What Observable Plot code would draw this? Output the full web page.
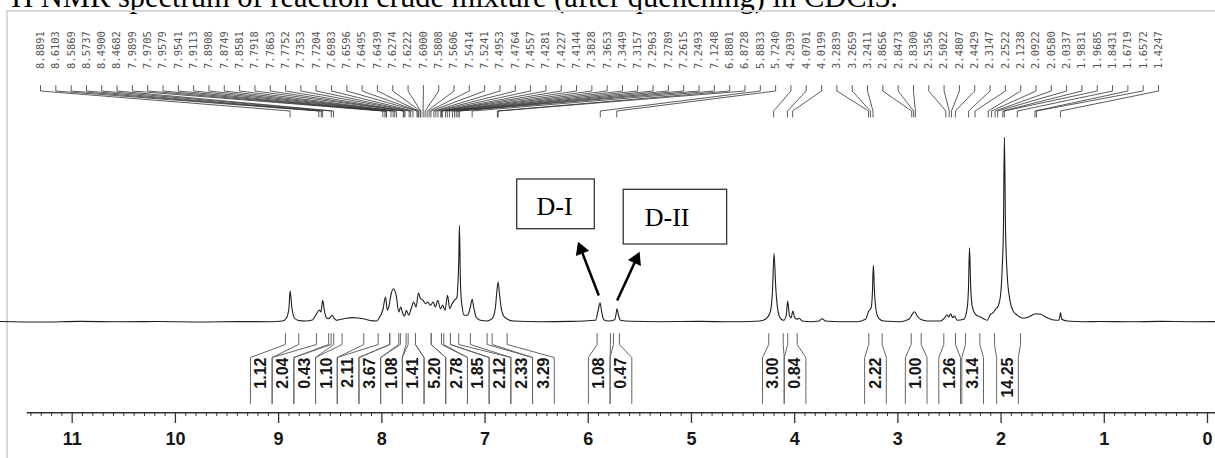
<!DOCTYPE html>
<html><head><meta charset="utf-8">
<script src="https://cdn.jsdelivr.net/npm/d3@7"></script>
<script src="https://cdn.jsdelivr.net/npm/@observablehq/plot@0.6"></script>
<style>
html,body{margin:0;padding:0;background:#fff;}
body{width:1215px;height:458px;overflow:hidden;position:relative;font-family:"Liberation Sans",Arial,sans-serif;}
#title{position:absolute;left:2px;top:-18.5px;font-family:"Liberation Serif","Times New Roman",serif;font-size:30.5px;line-height:30.5px;white-space:nowrap;color:#000;}
#frame{position:absolute;left:6px;top:10px;width:1240px;height:480px;border:2px solid #d9d9d9;box-sizing:border-box;}
#chart{position:absolute;left:0;top:0;}
</style></head><body>
<div id="title">¹H NMR spectrum of reaction crude mixture (after quenching) in CDCl3.</div>
<div id="frame"></div>
<div id="chart"></div>
<script>
// ---------------- DATA ----------------
// spectrum trace (chemical shift in ppm, intensity in arbitrary units)
const specPpm = [11.696,11.308,10.920,10.533,10.145,9.758,9.370,9.079,8.963,8.924,8.900,8.889,8.871,8.847,8.808,8.740,8.673,8.634,8.605,8.590,8.573,8.556,8.537,8.517,8.498,8.481,8.464,8.440,8.401,8.343,8.285,8.227,8.169,8.110,8.052,8.030,7.988,7.965,7.946,7.929,7.910,7.885,7.861,7.836,7.817,7.797,7.781,7.762,7.739,7.716,7.691,7.668,7.645,7.626,7.600,7.578,7.555,7.529,7.503,7.481,7.458,7.432,7.410,7.387,7.364,7.342,7.319,7.297,7.271,7.262,7.255,7.248,7.238,7.222,7.200,7.168,7.142,7.125,7.110,7.087,7.045,6.980,6.931,6.899,6.886,6.873,6.860,6.845,6.820,6.786,6.725,6.463,6.172,5.930,5.904,5.885,5.872,5.850,5.801,5.743,5.730,5.722,5.707,5.688,5.591,5.300,4.913,4.622,4.380,4.312,4.266,4.234,4.215,4.200,4.183,4.164,4.138,4.106,4.080,4.068,4.050,4.034,4.018,3.999,3.976,3.956,3.927,3.847,3.766,3.733,3.702,3.556,3.394,3.314,3.282,3.259,3.246,3.238,3.227,3.210,3.185,3.137,2.975,2.894,2.861,2.839,2.813,2.781,2.716,2.587,2.546,2.522,2.507,2.490,2.468,2.452,2.425,2.361,2.328,2.316,2.306,2.294,2.277,2.248,2.200,2.161,2.135,2.103,2.077,2.054,2.028,2.006,1.989,1.977,1.968,1.957,1.941,1.916,1.883,1.844,1.819,1.780,1.732,1.667,1.618,1.553,1.489,1.441,1.430,1.424,1.412,1.360,1.199,1.037,0.746,0.455,0.165,-0.078];
const specInt = [0.5,0,0.6,0.2,0.5,0,0.4,0.3,1,4,14,31,14,4,1.5,1,2,8,12,10,21.7,11,4,3.4,5,6.7,4,1.7,2.5,3.8,4.4,4,3,1.5,1,3.3,13,25,11.7,16.7,28,33.3,26.7,10,15,8.3,5.7,11.7,6.7,13.3,20,15,29,23.3,21.7,18.3,20,16.7,20,15,21.7,13.3,16.7,11.7,26.7,13.3,18.3,21.7,25,40,60,96.7,38,15,6.7,7,15,22.7,15,5,1.7,1,3.3,15,30,40,28,15,6,3,1,0.3,0.6,1.7,11.7,19.3,11.7,2.3,1,2.3,8.3,13.3,6.7,1.7,0.7,0.3,0.6,0.2,0.8,1.5,4.3,11,31,68.7,34,12.7,3.7,1.7,7.7,21,6,4.3,11,4.3,2.7,3.7,1,0.3,1,3.3,1,0.3,0.3,2.7,11,14.3,31,57,31,11,3.7,1,0.3,2.7,7.7,10.3,6,2.7,1,1,4.3,7,5,8.3,4.3,6,1.7,2.7,14.3,34,74.3,34,14.3,7.7,5,2.7,1.7,7.7,9.3,12.7,16,26,54.3,94,185,94,47.7,22.7,11,7,5,3.7,5,8.3,7.7,4.3,2,1.7,6,9.3,2.7,1,0.3,0.5,0.2,0.6,0.3,0.4];

// peak picking labels (ppm)
const peakLabels = ["8.8891","8.6103","8.5869","8.5737","8.4900","8.4682","7.9899","7.9705","7.9579","7.9541","7.9113","7.8908","7.8749","7.8581","7.7918","7.7863","7.7752","7.7353","7.7204","7.6983","7.6596","7.6495","7.6439","7.6274","7.6222","7.6000","7.5808","7.5606","7.5414","7.5241","7.4953","7.4764","7.4557","7.4281","7.4227","7.4144","7.3828","7.3653","7.3449","7.3157","7.2963","7.2789","7.2615","7.2493","7.1248","6.8801","6.8728","5.8833","5.7240","4.2039","4.0701","4.0199","3.2839","3.2659","3.2411","2.8656","2.8473","2.8300","2.5356","2.5022","2.4807","2.4429","2.3147","2.2522","2.1238","2.0922","2.0580","2.0337","1.9831","1.9685","1.8431","1.6719","1.6572","1.4247"];

// integration regions (ppm from, ppm to) and values
const integralFrom = [8.934,8.634,8.491,8.385,8.036,7.923,7.820,7.745,7.674,7.522,7.400,7.335,7.142,6.931,5.914,5.756,4.251,4.067,3.282,2.871,2.555,2.345,2.064];
const integralTo   = [8.805,8.515,8.466,8.175,7.923,7.836,7.765,7.674,7.522,7.422,7.335,7.255,6.980,6.786,5.785,5.698,4.111,3.976,3.152,2.774,2.442,2.206,1.812];
const integralValues = ["1.12","2.04","0.43","1.10","2.11","3.67","1.08","1.41","5.20","2.78","1.85","2.12","2.33","3.29","1.08","0.47","3.00","0.84","2.22","1.00","1.26","3.14","14.25"];

// axis tick labels
const axisTicks = [11,10,9,8,7,6,5,4,3,2,1,0];

// annotated peaks
const annotationLabels = ["D-I","D-II"];
const annotationPpm = [5.8833, 5.7240];

// ---------------- SCALES ----------------
const W = 1215, H = 458;
const xDomain = [11, 0], xRange = [71.7, 1207];
const yDomain = [0, 190], yRange = [321.5, 131.5];
const xs = Plot.scale({x: {domain: xDomain, range: xRange}});
const ys = Plot.scale({y: {domain: yDomain, range: yRange}});
const X = px => xs.invert(px);
const Y = py => ys.invert(py);

const spec = specPpm.map((p, i) => ({ppm: p, v: specInt[i]}));

// ---------------- PEAK LABEL LAYOUT ----------------
const labStart = 40, labStep = 15.315;
const peakVals = peakLabels.map(Number);
const connectors = [];
peakVals.forEach((p, i) => {
  const lx = labStart + i * labStep, px = xs.apply(p);
  connectors.push({x: X(lx), y: Y(85), k: i});
  connectors.push({x: X(lx), y: Y(90.5), k: i});
  connectors.push({x: X(px), y: Y(110.5), k: i});
  connectors.push({x: X(px), y: Y(116.5), k: i});
});

// ---------------- INTEGRAL LABEL LAYOUT ----------------
const colW = 21.7;
const centers = integralFrom.map((a, i) => (xs.apply(a) + xs.apply(integralTo[i])) / 2);
function layoutColumns(c, w) {
  let clusters = c.map((v, i) => ({idx: [i], center: v}));
  let merged = true;
  while (merged) {
    merged = false;
    for (let k = 0; k < clusters.length - 1; k++) {
      const a = clusters[k], b = clusters[k + 1];
      if (a.center + a.idx.length * w / 2 > b.center - b.idx.length * w / 2 + 0.01) {
        const idx = a.idx.concat(b.idx);
        clusters.splice(k, 2, {idx, center: d3.mean(idx, i => c[i])});
        merged = true; break;
      }
    }
  }
  const pos = [];
  for (const cl of clusters) {
    const n = cl.idx.length;
    cl.idx.forEach((i, j) => pos[i] = cl.center - n * w / 2 + (j + 0.5) * w);
  }
  return pos;
}
const colPos = layoutColumns(centers, colW);
const brackets = [];
integralFrom.forEach((a, i) => {
  const xa = xs.apply(a), xb = xs.apply(integralTo[i]);
  const cl = colPos[i] - colW / 2, cr = colPos[i] + colW / 2;
  [[xa, cl], [xb, cr]].forEach(([t, e], s) => {
    const k = i * 2 + s;
    brackets.push({x: X(t), y: Y(333), k});
    brackets.push({x: X(t), y: Y(344), k});
    brackets.push({x: X(e), y: Y(357), k});
    brackets.push({x: X(e), y: Y(403), k});
  });
});

// ---------------- ANNOTATIONS (offsets relative to the annotated peak) ----------------
const annLayout = [
  {box: [-83.1, -5.5, 179, 228.7], text: [-45.8, 206.3], from: [-1.5, 295], to: [-22.1, 241.7]},
  {box: [7, 110.4, 189.3, 244], text: [50.4, 217.5], from: [0.4, 300], to: [22.7, 251.7]}
];
const ann = annotationLabels.map((lab, i) => {
  const px = xs.apply(annotationPpm[i]), L = annLayout[i];
  const fx = px + L.from[0], fy = L.from[1], tx = px + L.to[0], ty = L.to[1];
  const len = Math.hypot(tx - fx, ty - fy), ux = (tx - fx) / len, uy = (ty - fy) / len;
  return {
    label: lab,
    bx1: X(px + L.box[0]), bx2: X(px + L.box[1]), by1: Y(L.box[2]), by2: Y(L.box[3]),
    tx: X(px + L.text[0]), ty: Y(L.text[1]),
    ax1: X(fx), ay1: Y(fy), ax2: X(tx - ux * 9), ay2: Y(ty - uy * 9),
    hx: X(tx - ux * 7.8), hy: Y(ty - uy * 7.8),
    rot: Math.atan2(ux, -uy) * 180 / Math.PI
  };
});

const minorTicks = d3.range(0, 115).map(i => i / 10).filter(v => Math.abs(v - Math.round(v)) > 1e-6);

const chart = Plot.plot({
  width: W, height: H,
  marginTop: 0, marginRight: 0, marginBottom: 46, marginLeft: 0,
  x: {domain: xDomain, range: xRange, axis: null},
  y: {domain: yDomain, range: yRange, axis: null},
  style: {background: "transparent", fontFamily: "'Liberation Sans', Arial, sans-serif", overflow: "visible"},
  marks: [
    // peak labels and connectors
    Plot.line(connectors, {x: "x", y: "y", z: "k", stroke: "#333", strokeWidth: 0.8, curve: "linear"}),
    Plot.text(peakLabels, {x: (d, i) => X(labStart + i * labStep), y: () => Y(68.5), text: d => d, rotate: -90,
      textAnchor: "start", lineAnchor: "middle", fontFamily: "'DejaVu Sans Mono', monospace", fontSize: 10.5, fill: "#555"}),
    // spectrum
    Plot.line(spec, {x: "ppm", y: "v", stroke: "#1e1e1e", strokeWidth: 1.1, curve: "monotone-x"}),
    // integrals
    Plot.line(brackets, {x: "x", y: "y", z: "k", stroke: "#666", strokeWidth: 1, curve: "linear"}),
    Plot.text(integralValues, {x: (d, i) => X(colPos[i]), y: () => Y(357), text: d => d, rotate: -90,
      textAnchor: "end", lineAnchor: "middle", fontSize: 16, fontWeight: "bold", fill: "#141414"}),
    // annotations
    Plot.rect(ann, {x1: "bx1", x2: "bx2", y1: "by1", y2: "by2", fill: "white", stroke: "#333", strokeWidth: 1.3}),
    Plot.text(ann, {x: "tx", y: "ty", text: "label", fontFamily: "'Liberation Serif', 'Times New Roman', serif",
      fontSize: 26, fill: "#000", lineAnchor: "middle"}),
    Plot.link(ann, {x1: "ax1", y1: "ay1", x2: "ax2", y2: "ay2", stroke: "#000", strokeWidth: 2.5}),
    Plot.dot(ann, {x: "hx", y: "hy", symbol: "triangle", r: 5.3, rotate: "rot", fill: "#000", stroke: "none"}),
    // x axis
    Plot.ruleY([0], {y: () => Y(412.3), x1: () => X(26.7), x2: () => X(1215), stroke: "#333", strokeWidth: 1.4}),
    Plot.axisX(minorTicks, {anchor: "bottom", tickSize: 4, tickFormat: () => "", stroke: "#333", strokeWidth: 1}),
    Plot.axisX(axisTicks, {anchor: "bottom", tickSize: 11, tickPadding: 9, tickFormat: d => String(d),
      fontSize: 18, fontWeight: "bold", fill: "#161616", stroke: "#333", strokeWidth: 1.3})
  ]
});
document.getElementById("chart").appendChild(chart);
</script>
</body></html>
